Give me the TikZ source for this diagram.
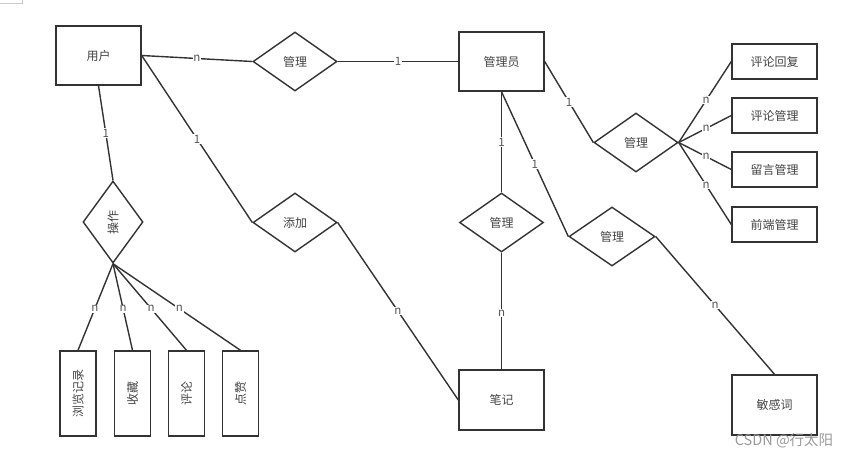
\documentclass[tikz,border=0pt]{standalone}
\usepackage{fontspec}
\setmainfont{Noto Sans CJK SC}
\usetikzlibrary{shapes.geometric}
\definecolor{ink}{HTML}{333333}
\definecolor{txt}{HTML}{444444}
\definecolor{ltxt}{HTML}{555555}
\definecolor{wm}{HTML}{9A9A9A}
\begin{document}
\begin{tikzpicture}[x=1pt,y=-1pt,
  ent/.style={draw=ink,line width=1.4pt,rectangle,minimum width=85pt,minimum height=59pt,inner sep=0pt,text=txt,font=\fontsize{12}{13}\selectfont},
  sment/.style={ent,minimum height=35pt},
  vent/.style={ent,minimum width=36pt,minimum height=85pt},
  rel/.style={draw=ink,line width=1.4pt,diamond,minimum width=84pt,minimum height=59pt,inner sep=0pt,text=txt,font=\fontsize{12}{13}\selectfont},
  conn/.style={draw=ink,line width=1.4pt},
  lbl/.style={fill=white,inner sep=0.8pt,text=ltxt,font=\fontsize{11.5}{12}\selectfont},
]
\useasboundingbox (0,0) rectangle (850,458);
\draw[gray!40,line width=0.8pt] (0,3) -- (22,3) -- (22,0);

% entities
\node[ent] (user) at (98.5,55.5) {用户};
\node[ent] (admin) at (501.5,61.5) {管理员};
\node[ent,minimum height=60pt] (note) at (501.5,400) {笔记};
\node[ent,minimum height=60pt] (sens) at (774.5,405) {敏感词};
\node[sment] (r1) at (774.5,61.5) {评论回复};
\node[sment] (r2) at (774.5,115.5) {评论管理};
\node[sment] (r3) at (774.5,169.5) {留言管理};
\node[sment] (r4) at (774.5,224.5) {前端管理};
\node[vent] (v1) at (78,393.5) {\rotatebox{90}{浏览记录}};
\node[vent] (v2) at (132.5,393.5) {\rotatebox{90}{收藏}};
\node[vent] (v3) at (186.5,393.5) {\rotatebox{90}{评论}};
\node[vent] (v4) at (240.5,393.5) {\rotatebox{90}{点赞}};

% relations
\node[rel] (m1) at (295,61.5) {管理};
\node[rel,minimum width=60pt,minimum height=82pt] (op) at (113,222) {\rotatebox{90}{操作}};
\node[rel] (add) at (295,222.5) {添加};
\node[rel] (m2) at (636,142.5) {管理};
\node[rel] (m3) at (501.5,222.5) {管理};
\node[rel,minimum width=86pt] (m4) at (612,236.5) {管理};

% connectors
\draw[conn] (user.east) -- node[lbl,midway] {n} (m1.west);
\draw[conn] (m1.east) -- node[lbl,midway] {1} (admin.west);
\draw[conn] (user.south) -- node[lbl,midway] {1} (op.north);
\draw[conn] (user.east) -- node[lbl,midway] {1} (add.west);
\draw[conn] (op.south) -- node[lbl,pos=0.52] {n} (v1.north);
\draw[conn] (op.south) -- node[lbl,pos=0.52] {n} (v2.north);
\draw[conn] (op.south) -- node[lbl,pos=0.52] {n} (v3.north);
\draw[conn] (op.south) -- node[lbl,pos=0.52] {n} (v4.north);
\draw[conn] (add.east) -- node[lbl,midway] {n} (note.west);
\draw[conn] (admin.east) -- node[lbl,midway] {1} (m2.west);
\draw[conn] (m2.east) -- node[lbl,pos=0.52] {n} (r1.west);
\draw[conn] (m2.east) -- node[lbl,pos=0.52] {n} (r2.west);
\draw[conn] (m2.east) -- node[lbl,pos=0.52] {n} (r3.west);
\draw[conn] (m2.east) -- node[lbl,pos=0.52] {n} (r4.west);
\draw[conn] (admin.south) -- node[lbl,midway] {1} (m3.north);
\draw[conn] (m3.south) -- node[lbl,pos=0.52] {n} (note.north);
\draw[conn] (admin.south) -- node[lbl,midway] {1} (m4.west);
\draw[conn] (m4.east) -- node[lbl,midway] {n} (sens.north);

% watermark
\node[text=wm,font=\fontsize{14.5}{16}\selectfont,inner sep=0pt] (wmk) at (784,441) {CSDN @行太阳};
\end{tikzpicture}
\end{document}
